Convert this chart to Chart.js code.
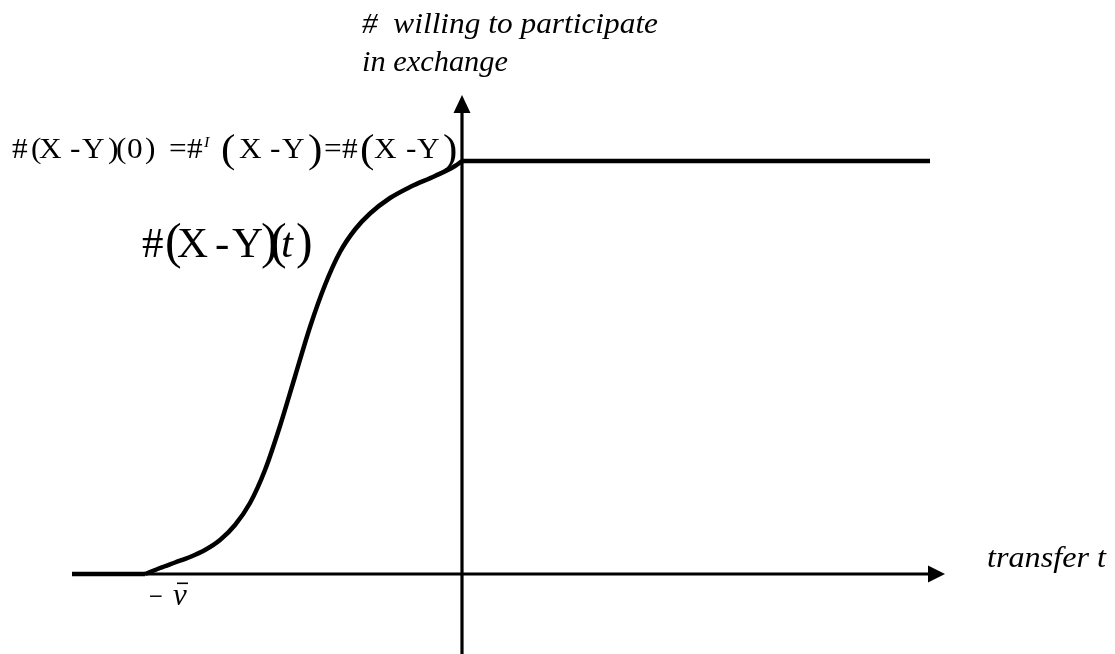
<!DOCTYPE html>
<html><head><meta charset="utf-8">
<script src="https://cdn.jsdelivr.net/npm/chart.js@4"></script>
<style>html,body{margin:0;padding:0;background:#fff}#wrap{width:1115px;height:654px;position:relative}</style>
</head><body><div id="wrap"><canvas id="c"></canvas></div>
<script>
// transfer t (relative to origin) and number willing to participate
const leftFlatT = [-390, -317];
const leftFlatN = [0, 0];
const curveT = [-317,-302,-287,-272,-257,-242,-227,-212,-197,-182,-167,-152,-137,-122,-107,-92,-72,-52,-27,-7,0];
const curveN = [0,6,11.5,17,24,34,49,71,104,148,197.5,247,289,322,344.5,360.5,376,387,398,408,413];
const plateauT = [0, 468];
const plateauN = [413, 413];
// axis extents in data units
const X_MIN = -462, X_MAX = 653, Y_MIN = -80, Y_MAX = 574;
const X_AXIS_START = -390, X_AXIS_TIP = 483;
const Y_AXIS_BOTTOM = -80, Y_AXIS_TIP = 479;

const pts = (t, n) => t.map((v, i) => ({x: v, y: n[i]}));
const SERIF = '"Liberation Serif","Times New Roman",serif';

function fitText(ctx, txt, x, y, font, w) {
  ctx.font = font;
  const m = ctx.measureText(txt).width;
  ctx.save(); ctx.translate(x, y); ctx.scale(w / m, 1); ctx.fillText(txt, 0, 0); ctx.restore();
}
function seg(ctx, list, sx) {
  for (const s of list) {
    ctx.font = s.f; ctx.save(); ctx.translate(s.x, s.y); ctx.scale(sx, 1); ctx.fillText(s.t, 0, 0); ctx.restore();
  }
}

const axesPlugin = {
  id: 'axes',
  beforeDatasetsDraw(chart) {
    const ctx = chart.ctx, xs = chart.scales.x, ys = chart.scales.y;
    const ox = xs.getPixelForValue(0), oy = ys.getPixelForValue(0);
    const x0 = xs.getPixelForValue(X_AXIS_START), xt = xs.getPixelForValue(X_AXIS_TIP);
    const yb = ys.getPixelForValue(Y_AXIS_BOTTOM), yt = ys.getPixelForValue(Y_AXIS_TIP);
    ctx.save();
    ctx.strokeStyle = '#000'; ctx.fillStyle = '#000'; ctx.lineWidth = 3.2;
    ctx.beginPath(); ctx.moveTo(x0, oy); ctx.lineTo(xt - 12, oy); ctx.stroke();
    ctx.beginPath(); ctx.moveTo(xt, oy); ctx.lineTo(xt - 17, oy - 8.5); ctx.lineTo(xt - 17, oy + 8.5); ctx.closePath(); ctx.fill();
    ctx.beginPath(); ctx.moveTo(ox, yb); ctx.lineTo(ox, yt + 12); ctx.stroke();
    ctx.beginPath(); ctx.moveTo(ox, yt); ctx.lineTo(ox - 8.5, yt + 18); ctx.lineTo(ox + 8.5, yt + 18); ctx.closePath(); ctx.fill();
    ctx.restore();
  },
  afterDraw(chart) {
    const ctx = chart.ctx;
    ctx.save();
    ctx.fillStyle = '#000'; ctx.textAlign = 'left'; ctx.textBaseline = 'alphabetic';
    const it = 'italic 29px ' + SERIF;
    fitText(ctx, '#  willing to participate', 362, 33, it, 296);
    fitText(ctx, 'in exchange', 362, 71, it, 146);
    fitText(ctx, 'transfer t', 987, 567, it, 119);
    // -v bar
    fitText(ctx, '\u2212', 149, 606, '30px ' + SERIF, 14);
    ctx.font = 'italic 31px ' + SERIF; ctx.fillText('v', 173, 605);
    ctx.fillRect(177, 582.5, 11, 1.6);
    // top formula
    const R = '29px ' + SERIF, B = '40px ' + SERIF, S = 'italic 15px ' + SERIF;
    const by = 158, bb = 162;
    seg(ctx, [
      {t:'#', x:12, y:by, f:R}, {t:'(', x:31, y:by, f:R}, {t:'X', x:39, y:by, f:R}, {t:'-', x:70, y:by, f:R},
      {t:'Y', x:82, y:by, f:R}, {t:')', x:108, y:by, f:R}, {t:'(', x:116, y:by, f:R}, {t:'0', x:127, y:by, f:R},
      {t:')', x:145, y:by, f:R}, {t:'=', x:169, y:by, f:R}, {t:'#', x:187, y:by, f:R}, {t:'I', x:204, y:147, f:S},
      {t:'(', x:221, y:bb, f:B}, {t:'X', x:239, y:by, f:R}, {t:'-', x:270, y:by, f:R}, {t:'Y', x:282, y:by, f:R},
      {t:')', x:308, y:bb, f:B}, {t:'=', x:324, y:by, f:R}, {t:'#', x:342, y:by, f:R}, {t:'(', x:360, y:bb, f:B},
      {t:'X', x:374, y:by, f:R}, {t:'-', x:406, y:by, f:R}, {t:'Y', x:417, y:by, f:R}, {t:')', x:443, y:bb, f:B}
    ], 1.08);
    // curve label
    const L = '43px ' + SERIF, LP = '50px ' + SERIF, LI = 'italic 43px ' + SERIF;
    const ly = 257;
    seg(ctx, [
      {t:'#', x:142, y:ly, f:L}, {t:'(', x:165, y:258, f:LP}, {t:'X', x:177, y:ly, f:L}, {t:'-', x:215, y:ly, f:L},
      {t:'Y', x:232, y:ly, f:L}, {t:')', x:261, y:258, f:LP}, {t:'(', x:270, y:258, f:LP}, {t:'t', x:281, y:ly, f:LI},
      {t:')', x:296, y:258, f:LP}
    ], 1);
    ctx.restore();
  }
};

const line = (data, mode) => ({
  data, borderColor: '#000', borderWidth: 4.5, pointRadius: 0, fill: false, showLine: true,
  cubicInterpolationMode: mode, tension: 0, borderCapStyle: 'butt', borderJoinStyle: 'round'
});

new Chart(document.getElementById('c'), {
  type: 'scatter',
  data: { datasets: [
    line(pts(leftFlatT, leftFlatN), 'default'),
    line(pts(curveT, curveN), 'monotone'),
    line(pts(plateauT, plateauN), 'default')
  ]},
  options: {
    responsive: true, maintainAspectRatio: false, animation: false, devicePixelRatio: 1,
    layout: { padding: 0 },
    plugins: { legend: { display: false }, tooltip: { enabled: false }, title: { display: false } },
    scales: {
      x: { type: 'linear', min: X_MIN, max: X_MAX, display: false },
      y: { type: 'linear', min: Y_MIN, max: Y_MAX, display: false }
    }
  },
  plugins: [axesPlugin]
});
</script></body></html>
